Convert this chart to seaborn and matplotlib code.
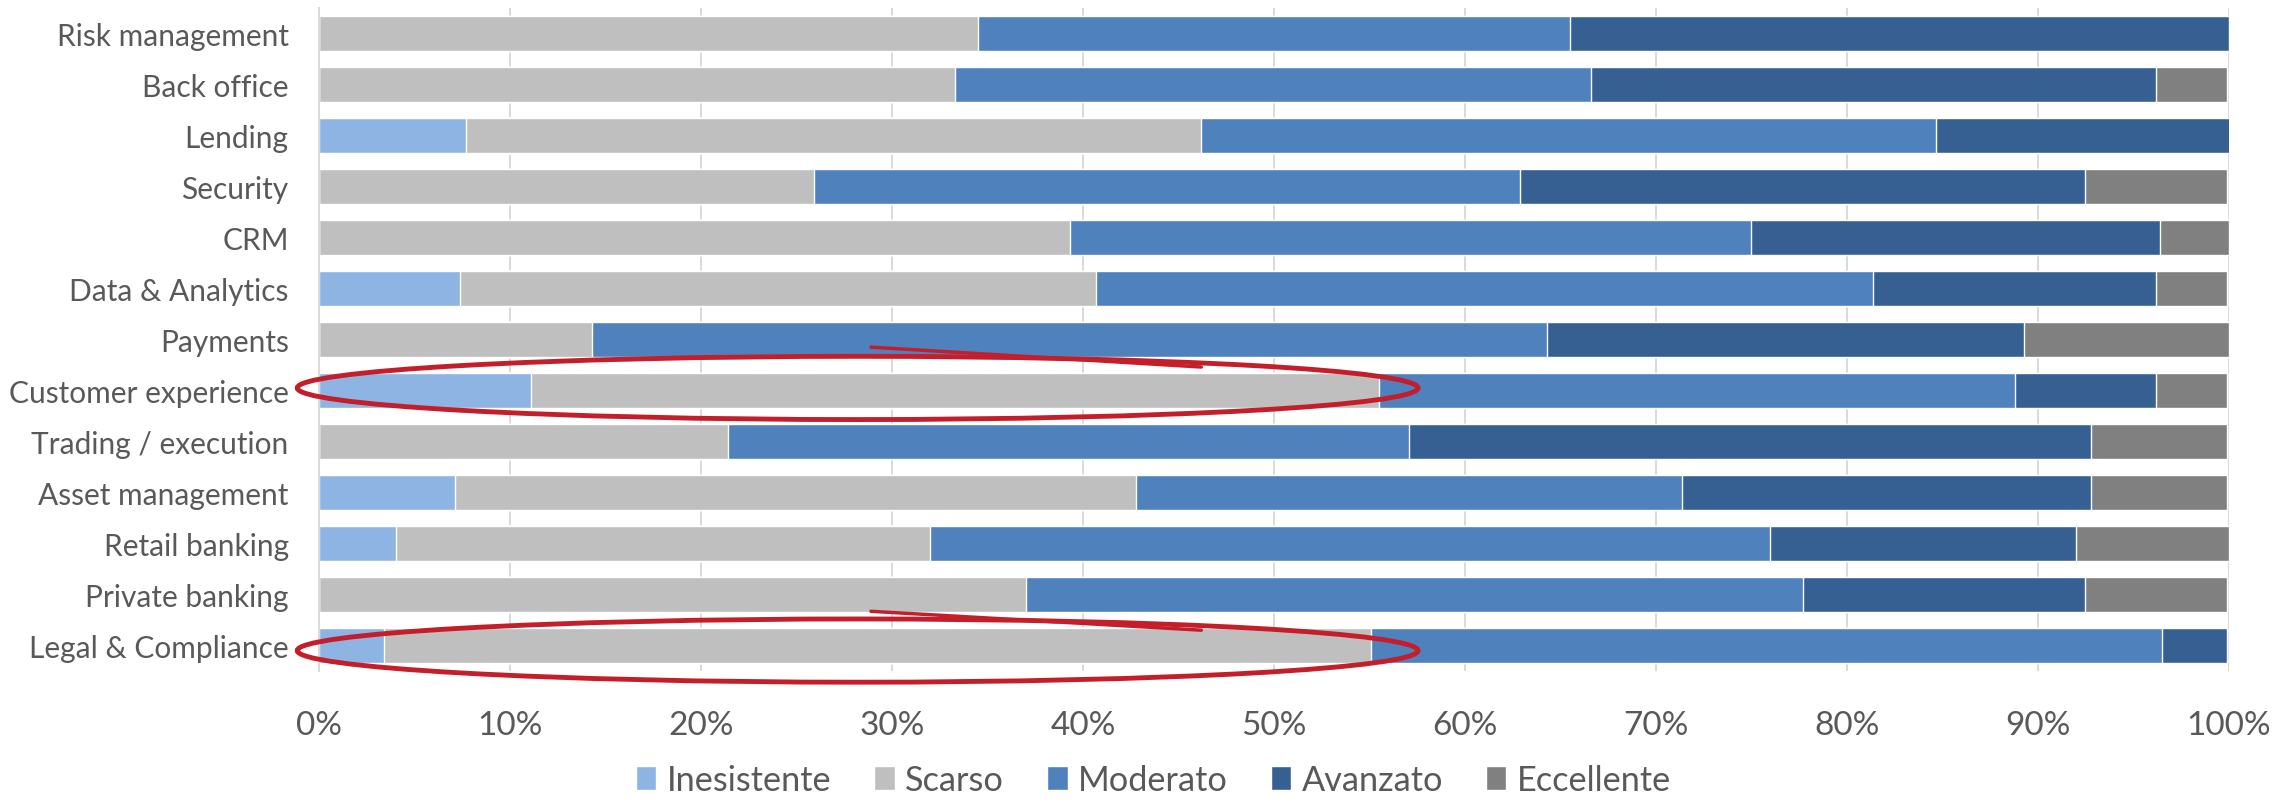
import numpy as np
import pandas as pd
import seaborn as sns
import matplotlib
import matplotlib.pyplot as plt
from matplotlib.patches import Ellipse, Patch
from matplotlib.ticker import PercentFormatter

# Areas (top to bottom) and share of answers per maturity level, in %
areas = ["Risk management", "Back office", "Lending", "Security", "CRM",
         "Data & Analytics", "Payments", "Customer experience",
         "Trading / execution", "Asset management", "Retail banking",
         "Private banking", "Legal & Compliance"]
levels = ["Inesistente", "Scarso", "Moderato", "Avanzato", "Eccellente"]

inesistente = [0.0, 0.0, 7.7, 0.0, 0.0, 7.4, 0.0, 11.1, 0.0, 7.1, 4.0, 0.0, 3.4]
scarso      = [34.5, 33.3, 38.5, 25.9, 39.3, 33.3, 14.3, 44.4, 21.4, 35.7, 28.0, 37.0, 51.7]
moderato    = [31.0, 33.3, 38.5, 37.0, 35.7, 40.7, 50.0, 33.3, 35.7, 28.6, 44.0, 40.7, 41.4]
avanzato    = [34.5, 29.6, 15.4, 29.6, 21.4, 14.8, 25.0, 7.4, 35.7, 21.4, 16.0, 14.8, 3.4]
eccellente  = [0.0, 3.7, 0.0, 7.4, 3.6, 3.7, 10.7, 3.7, 7.1, 7.1, 8.0, 7.4, 0.0]

colors = ["#8EB4E3", "#BFBFBF", "#4F81BD", "#376092", "#808080"]

df = pd.DataFrame({"area": areas, "Inesistente": inesistente, "Scarso": scarso,
                   "Moderato": moderato, "Avanzato": avanzato,
                   "Eccellente": eccellente})
cum = df[levels].cumsum(axis=1)
cum["area"] = df["area"]

sns.set_theme()
sns.set_style("white")
plt.rcParams['font.family'] = ['Lato', 'DejaVu Sans']
text_color = "#595959"

fig = plt.figure(figsize=(22.75, 8.04), dpi=100)
ax = fig.add_axes([0.1403, 0.1642, 0.8393, 0.8246])

# stacked bars: draw cumulative totals from the right-most level backwards
for lev, col in reversed(list(zip(levels, colors))):
  sns.barplot(data=cum, x=lev, y="area", color=col, width=0.675,
              saturation=1, ax=ax, zorder=2)

ax.set_xlim(0, 100)
ax.set_ylim(len(areas) - 0.5, -0.5)
ax.set_xticks(np.arange(0, 101, 10))
ax.xaxis.set_major_formatter(PercentFormatter(decimals=0))
ax.grid(axis="x", color="#D9D9D9", lw=1.4, zorder=0)
ax.grid(axis="y", visible=False)
ax.set_axisbelow(True)
ax.set_xlabel("")
ax.set_ylabel("")
for s in ["top", "right", "bottom"]:
  ax.spines[s].set_visible(False)
ax.spines["left"].set_color("#D9D9D9")
ax.spines["left"].set_linewidth(1.4)
ax.tick_params(axis="x", length=0, pad=28, labelsize=24, labelcolor=text_color)
ax.tick_params(axis="y", length=0, pad=22, labelsize=21.5, labelcolor=text_color)

# red hand-drawn highlights
red = "#C41E2A"
for row, dy, ty in [(7, -0.05, (-0.85, -0.46)), (12, 0.1, (-0.67, -0.3))]:
  ax.add_patch(Ellipse((28.2, row + dy), width=58.7, height=1.24, fill=False,
                       edgecolor=red, lw=3.5, clip_on=False, zorder=5))
  ax.plot([28.9, 46.2], [row + ty[0], row + ty[1]], color=red, lw=2.5,
          solid_capstyle="round", clip_on=False, zorder=5)

handles = [Patch(facecolor=c, label=l) for l, c in zip(levels, colors)]
fig.legend(handles=handles, loc="lower center", bbox_to_anchor=(0.507, -0.03),
           ncol=5, frameon=False, fontsize=24.7, handlelength=0.6,
           handleheight=0.7, handletextpad=0.3, columnspacing=1.25,
           labelcolor=text_color)

fig.savefig("out.png", dpi=100)
